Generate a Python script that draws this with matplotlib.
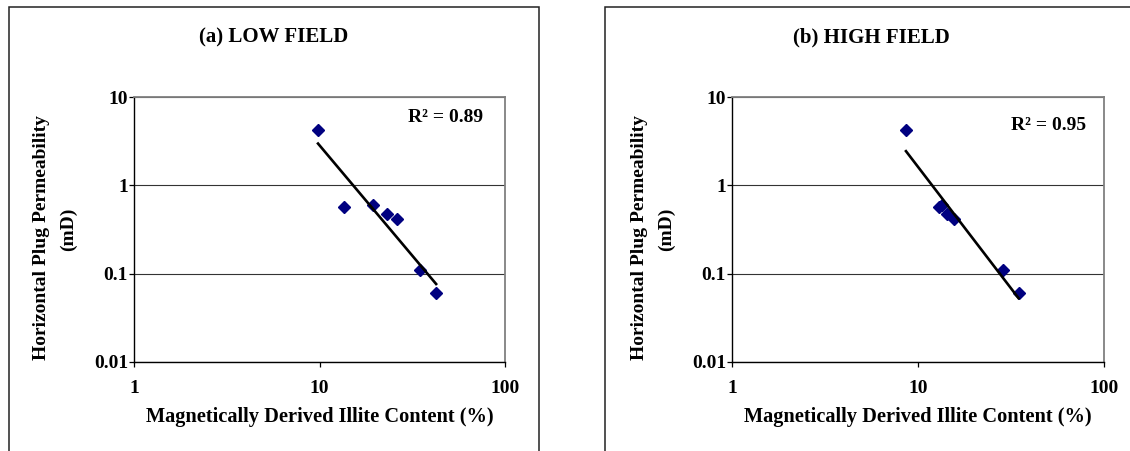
import numpy as np
import matplotlib.pyplot as plt
from matplotlib.patches import Rectangle

plt.rcParams['font.family'] = ['Liberation Serif', 'DejaVu Serif']
plt.rcParams['font.weight'] = 'bold'

# permeability of the plugs (mD)
perm = [4.2, 0.57, 0.60, 0.47, 0.42, 0.11, 0.06]
# magnetically derived illite content (%)
illite_low = [9.8, 13.5, 19.4, 23.0, 26.0, 35.0, 42.5]
illite_high = [8.6, 13.0, 13.5, 14.3, 15.5, 28.5, 34.7]

titles = ['(a) LOW FIELD', '(b) HIGH FIELD']
xticks = [1, 10, 100]
yticks = [0.01, 0.1, 1, 10]

fig = plt.figure(figsize=(11.3, 4.51), dpi=100)

# outer chart frames (pixel positions / figure size)
W, H = 1130., 451.
for x0, x1 in [(8.7, 539), (605, 1140)]:
    fig.add_artist(Rectangle((x0 / W, -0.1), (x1 - x0) / W, 1 - 7.3 / H + 0.1,
                             transform=fig.transFigure, fill=False,
                             edgecolor='#222222', lw=1.1))

axes_px = [(134.3, 505.0), (732.3, 1104.0)]
title_x = [273.8, 871.5]
r2_pos = [(0.738, 0.9245), (0.750, 0.8906)]

for i, xdata in enumerate([illite_low, illite_high]):
    l, r = axes_px[i]
    ax = fig.add_axes([l / W, 1 - 362 / H, (r - l) / W, 265 / H])
    ax.set_xscale('log')
    ax.set_yscale('log')
    ax.set_xlim(1, 100)
    ax.set_ylim(0.01, 10)

    x = np.array(xdata)
    y = np.array(perm)
    ax.plot(x, y, 'D', color='#000080', ms=6.3, mec='#000080', zorder=3)

    # power-law trend line (least squares in log-log)
    b, a = np.polyfit(np.log10(x), np.log10(y), 1)
    r2 = np.corrcoef(np.log10(x), np.log10(y))[0, 1] ** 2
    xf = np.logspace(np.log10(x.min()), np.log10(x.max()), 50)
    ax.plot(xf, 10 ** a * xf ** b, color='black', lw=1.9, zorder=4)
    ax.text(r2_pos[i][0], r2_pos[i][1], 'R² = %.2f' % r2, transform=ax.transAxes,
            fontsize=14, fontweight='bold', va='center', ha='left')

    ax.set_xticks(xticks)
    ax.set_xticklabels([str(t) for t in xticks])
    ax.set_yticks(yticks)
    ax.set_yticklabels([str(t) for t in yticks])
    ax.minorticks_off()
    ax.tick_params(axis='both', direction='out', length=3.6, width=0.9,
                   labelsize=14, color='black')
    ax.tick_params(axis='x', pad=9.5)
    ax.tick_params(axis='y', pad=1)
    for lab in ax.get_xticklabels() + ax.get_yticklabels():
        lab.set_fontweight('bold')

    ax.yaxis.grid(True, color='#333333', lw=0.8)
    for s in ['left', 'bottom']:
        ax.spines[s].set_color('black')
        ax.spines[s].set_linewidth(1.0)
    for s in ['top', 'right']:
        ax.spines[s].set_color('#808080')
        ax.spines[s].set_linewidth(1.3)

    ax.text(0.5, -0.2075, 'Magnetically Derived Illite Content (%)',
            transform=ax.transAxes, ha='center', va='center',
            fontsize=14.7, fontweight='bold')
    ax.text(-0.2503, 0.468, 'Horizontal Plug Permeability', rotation=90,
            transform=ax.transAxes, ha='center', va='center',
            fontsize=14, fontweight='bold')
    ax.text(-0.1783, 0.50, '(mD)', rotation=90,
            transform=ax.transAxes, ha='center', va='center',
            fontsize=14, fontweight='bold')

    fig.text(title_x[i] / W, 1 - 37.5 / H, titles[i], ha='center', va='center',
             fontsize=15, fontweight='bold')

fig.savefig('out.png', dpi=100)
